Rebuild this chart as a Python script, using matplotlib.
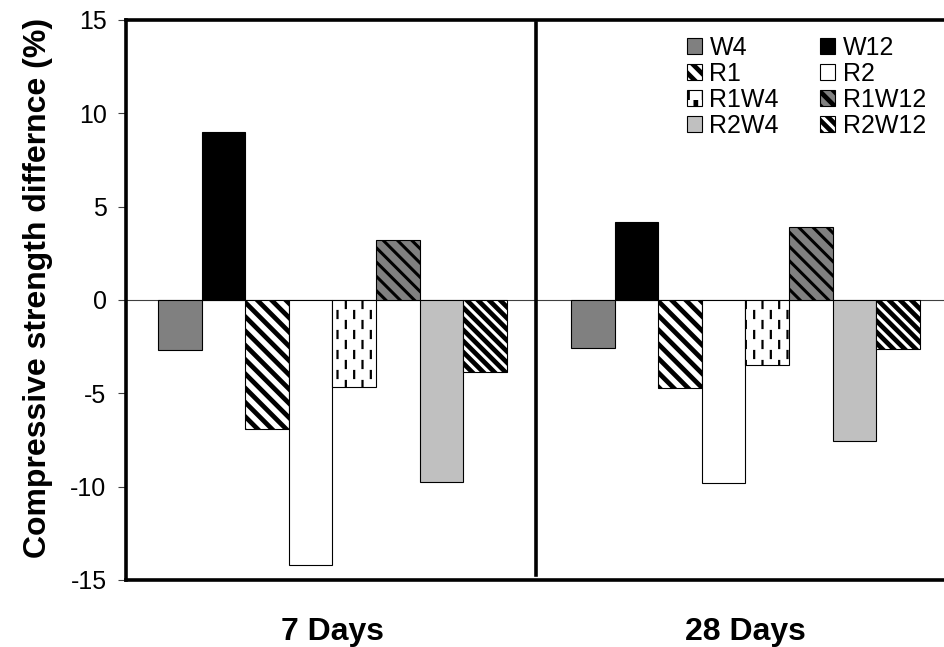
import warnings
import numpy
import matplotlib
matplotlib.use('Agg')
from matplotlib import pyplot
from matplotlib import hatch as mhatch
from matplotlib.path import Path

warnings.filterwarnings('ignore')

ages = ['7 Days', '28 Days']
mixes = ['W4', 'W12', 'R1', 'R2', 'R1W4', 'R1W12', 'R2W4', 'R2W12']
diff_7d = [-2.7, 9.0, -6.9, -14.2, -4.65, 3.2, -9.75, -3.85]
diff_28d = [-2.55, 4.2, -4.7, -9.8, -3.5, 3.9, -7.55, -2.65]
y_ticks = [-15, -10, -5, 0, 5, 10, 15]


class StripeHatch(mhatch.HatchPatternBase):
  # "\\" stripes with a chosen number of lines per hatch tile
  per_tile = {'z': 7, 'w': 9}

  def __init__(self, hatch, density):
    self.m = sum(hatch.count(c) * n for c, n in self.per_tile.items())
    self.num_vertices = (2 * self.m + 1) * 2 if self.m else 0

  def set_vertices_and_codes(self, vertices, codes):
    c = numpy.arange(2 * self.m + 1) / self.m
    vertices[0::2, 0] = c
    vertices[0::2, 1] = 0.0
    vertices[1::2, 0] = c - 1.0
    vertices[1::2, 1] = 1.0
    codes[0::2] = Path.MOVETO
    codes[1::2] = Path.LINETO


class DashHatch(mhatch.HatchPatternBase):
  # short vertical dashes, staggered columns
  cols, rows, dash = 12, 5, 0.07

  def __init__(self, hatch, density):
    self.on = hatch.count('i') > 0
    self.num_vertices = self.cols * self.rows * 2 if self.on else 0

  def set_vertices_and_codes(self, vertices, codes):
    k = 0
    for j in range(self.cols):
      x = (j + 0.5) / self.cols
      off = 0.02 + (0.5 / self.rows if j % 2 else 0.0)
      for r in range(self.rows):
        y0 = off + r / self.rows
        vertices[k] = (x, y0)
        vertices[k + 1] = (x, y0 + self.dash)
        codes[k] = Path.MOVETO
        codes[k + 1] = Path.LINETO
        k += 2


mhatch._hatch_types.append(StripeHatch)
mhatch._hatch_types.append(DashHatch)

styles = {
  'W4': dict(color='#808080', hatch=None, hlw=1.0),
  'W12': dict(color='#000000', hatch=None, hlw=1.0),
  'R1': dict(color='#ffffff', hatch='z', hlw=3.4),
  'R2': dict(color='#ffffff', hatch=None, hlw=1.0),
  'R1W4': dict(color='#ffffff', hatch='i', hlw=1.6),
  'R1W12': dict(color='#808080', hatch='z', hlw=2.2),
  'R2W4': dict(color='#c0c0c0', hatch=None, hlw=1.0),
  'R2W12': dict(color='#ffffff', hatch='w', hlw=3.4),
}

pyplot.rcParams['font.family'] = ['Liberation Sans', 'DejaVu Sans']

fig = pyplot.figure(figsize=(9.45, 6.47), dpi=100)
ax = fig.add_axes([0.1333, 0.1036, 0.874, 0.8655])

x = numpy.arange(len(ages))
width = 0.1056
values = numpy.array([diff_7d, diff_28d])
handles = []
for i, mix in enumerate(mixes):
  st = styles[mix]
  pyplot.rcParams['hatch.linewidth'] = st['hlw']
  bars = ax.bar(x + (i - 3.5) * width, values[:, i], width,
                color=st['color'], edgecolor='black', linewidth=0.8,
                hatch=st['hatch'], label=mix, zorder=2)
  for b in bars:
    if hasattr(b, 'set_hatch_linewidth'):
      b.set_hatch_linewidth(st['hlw'])
  handles.append(bars)

ax.axhline(0, color='#404040', linewidth=0.8, zorder=1)
ax.axvline(0.493, ymin=0.009, ymax=0.995, color='black', linewidth=2.6, zorder=3)

ax.set_xlim(-0.5, 1.5)
ax.set_ylim(-15, 15)
ax.set_yticks(y_ticks)
ax.set_yticklabels([str(t) for t in y_ticks])
ax.set_xticks(x)
ax.set_xticklabels(ages, fontsize=23, fontweight='bold')
ax.tick_params(axis='x', length=0, pad=27)
ax.tick_params(axis='y', direction='out', length=6, width=0.8,
               color='#404040', labelsize=18, pad=8)

for side in ['top', 'bottom', 'left']:
  ax.spines[side].set_linewidth(2.6)
ax.spines['right'].set_visible(False)

fig.text(38 / 945, 0.5556, 'Compressive strength differnce (%)', rotation=90,
         ha='center', va='center', fontsize=23, fontweight='bold')

order = [0, 2, 4, 6, 1, 3, 5, 7]
ax.legend([handles[k] for k in order], [mixes[k] for k in order],
          ncol=2, loc='upper left', bbox_to_anchor=(687 / 945, 1 - 36 / 647),
          bbox_transform=fig.transFigure, frameon=False, fontsize=18,
          borderpad=0, borderaxespad=0, handlelength=0.6, handleheight=0.6,
          handletextpad=0.3, labelspacing=0.08, columnspacing=1.65)

fig.savefig('out.png', dpi=100)
